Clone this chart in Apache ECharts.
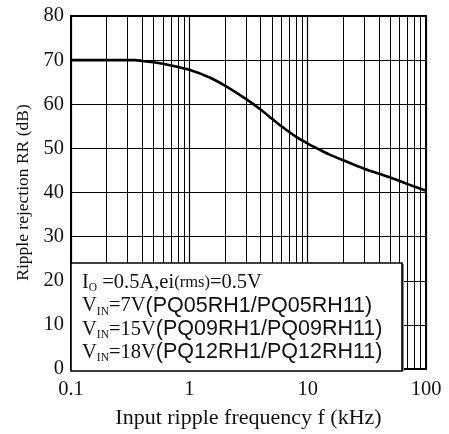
<!DOCTYPE html>
<html><head><meta charset="utf-8">
<script src="https://cdn.jsdelivr.net/npm/echarts@6/dist/echarts.min.js"></script>
<style>html,body{margin:0;padding:0;background:#fff}#c{width:449px;height:434px}</style>
</head><body><div id="c"></div>
<script>
// Data
const freqKHz = [0.1, 0.2, 0.3, 0.35, 0.4, 0.5, 0.7, 1, 1.5, 2, 3, 4, 5, 6, 8, 10, 12, 15, 20, 30, 50, 70, 100];
const rippleDB = [70, 70, 70, 70, 69.8, 69.5, 68.8, 67.8, 66.0, 64.2, 61.2, 58.8, 56.7, 55.0, 52.6, 51.1, 50.0, 48.7, 47.3, 45.4, 43.4, 41.9, 40.4];
const xTickLabels = [0.1, 1, 10, 100];
const xMinorGrid = [0.2,0.3,0.4,0.5,0.6,0.7,0.8,0.9,2,3,4,5,6,7,8,9,20,30,40,50,60,70,80,90];
const yTicks = [0,10,20,30,40,50,60,70,80];
const noteLines = [
  'I{s|O} =0.5A,ei{m|(rms)}=0.5V',
  'V{s|IN}=7V{a|(PQ05RH1/PQ05RH11)}',
  'V{s|IN}=15V{a|(PQ09RH1/PQ09RH11)}',
  'V{s|IN}=18V{a|(PQ12RH1/PQ12RH11)}'
];

const serif = '"Liberation Serif", "Times New Roman", serif';
const chart = echarts.init(document.getElementById('c'));
chart.setOption({
  animation: false,
  backgroundColor: '#fff',
  grid: { left: 71, right: 23, top: 16, bottom: 63, show: true, borderColor: '#000', borderWidth: 2, backgroundColor: 'transparent' },
  xAxis: {
    type: 'log', logBase: 10, min: 0.1, max: 100,
    name: 'Input ripple frequency f (kHz)', nameLocation: 'middle', nameGap: 38,
    nameTextStyle: { fontFamily: serif, fontSize: 22, color: '#111' },
    axisLine: { lineStyle: { color: '#000', width: 2 } },
    axisTick: { show: false },
    axisLabel: { fontFamily: serif, fontSize: 20.5, color: '#111', margin: 10,
      formatter: v => { const r = xTickLabels.find(t => Math.abs(t - v) / t < 1e-6); return r === undefined ? '' : String(r); } },
    splitLine: { show: true, lineStyle: { color: '#000', width: 1.2 } }
  },
  yAxis: {
    type: 'value', min: 0, max: 80, interval: 10,
    name: 'Ripple rejection RR (dB)', nameLocation: 'middle', nameGap: 37, nameRotate: 90,
    nameTextStyle: { fontFamily: serif, fontSize: 17.5, color: '#111' },
    axisLine: { show: true, lineStyle: { color: '#000', width: 2 } },
    axisTick: { show: false },
    axisLabel: { fontFamily: serif, fontSize: 20.5, color: '#111', margin: 7,
      formatter: v => yTicks.includes(v) ? String(v) : '' },
    splitLine: { show: true, lineStyle: { color: '#000', width: 1.2 } }
  },
  series: [
    {
      type: 'line', data: freqKHz.map((f, i) => [f, rippleDB[i]]),
      showSymbol: false, smooth: 0.3, z: 5,
      lineStyle: { color: '#000', width: 2.6 },
      markLine: {
        silent: true, symbol: 'none', label: { show: false }, animation: false,
        lineStyle: { color: '#000', width: 1, type: 'solid' },
        data: xMinorGrid.map(v => ({ xAxis: v }))
      }
    }
  ],
  graphic: [
    { type: 'rect', z: 100, shape: { x: 402, y: 264, width: 2, height: 107 }, style: { fill: '#888' } },
    { type: 'rect', z: 101, shape: { x: 71, y: 263, width: 331, height: 108 },
      style: { fill: '#fff', stroke: '#000', lineWidth: 1.6 } },
    { type: 'text', z: 102, left: 82, top: 271,
      style: {
        text: noteLines.join('\n'),
        font: '20.5px ' + serif, fill: '#111', lineHeight: 23.3,
        rich: {
          s: { fontFamily: serif, fontSize: 11.5, fill: '#111', lineHeight: 23.3, verticalAlign: 'bottom', padding: [6,0,0,0] },
          m: { fontFamily: serif, fontSize: 16.5, fill: '#111', lineHeight: 23.3 },
          a: { fontFamily: '"Liberation Sans", Arial, sans-serif', fontSize: 21.5, fill: '#111', lineHeight: 23.3 }
        }
      }
    }
  ]
});
</script></body></html>
